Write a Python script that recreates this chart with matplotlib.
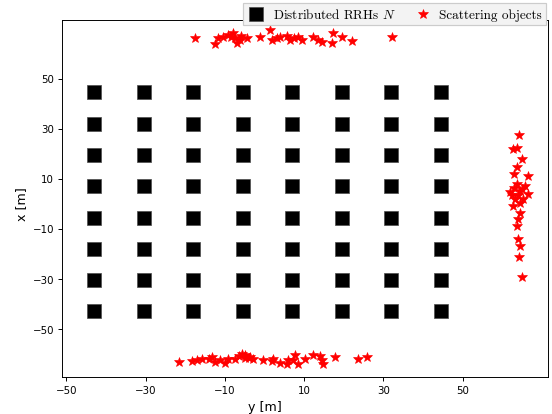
import numpy as np
import matplotlib
matplotlib.use("Agg")
import matplotlib.pyplot as plt

plt.rcParams["mathtext.fontset"] = "cm"

# Distributed RRH grid (8 x 8, 12.5 m spacing)
rrh_coords = [-43.0, -30.5, -18.0, -5.5, 7.0, 19.5, 32.0, 44.5]

# Scattering objects: (y, x) in metres
scat_top_y = [-17.5, -12.5, -11.7, -10.4, -9.1, -7.9, -7.4, -7.0, -6.2, -4.5,
              -1.1, 1.4, 1.8, 3.1, 3.9, 5.6, 8.5, 9.4, 12.3, 13.6,
              14.4, 16.9, 17.4, 19.5, 22.0, 32.1, -8.5, -6.0, 6.5, 7.5]
scat_top_x = [66.1, 63.8, 66.1, 66.8, 67.4, 68.1, 66.1, 64.1, 65.4, 66.1,
              66.5, 69.4, 65.4, 66.1, 66.8, 67.0, 66.8, 65.4, 66.5, 65.4,
              64.8, 64.1, 68.1, 66.5, 65.2, 66.5, 66.6, 67.0, 65.6, 66.4]

scat_bot_y = [-21.6, -18.4, -17.1, -15.8, -13.3, -12.5, -11.2, -10.0, -9.1, -7.4,
              -5.8, -4.9, -3.7, -2.8, -0.3, 1.8, 2.2, 3.9, 5.6, 7.3,
              7.7, 8.5, 10.2, 12.3, 14.0, 14.4, 14.8, 17.8, 23.7, 25.8,
              -6.5, -5.0, -4.0, 6.0, -14.0]
scat_bot_x = [-63.3, -63.0, -62.6, -62.2, -61.2, -63.3, -62.6, -63.6, -62.2, -61.9,
              -60.0, -61.6, -61.2, -61.9, -62.6, -63.0, -61.9, -63.6, -64.0, -62.6,
              -60.6, -64.0, -61.9, -60.6, -60.8, -62.6, -64.0, -61.2, -62.2, -61.2,
              -61.0, -60.6, -61.8, -62.5, -62.0]

scat_right_y = [64.2, 62.7, 63.6, 65.0, 63.6, 63.0, 66.5, 63.6, 65.7, 61.9,
                64.4, 66.5, 63.2, 65.3, 62.7, 64.4, 63.9, 63.6, 63.9, 64.4,
                64.2, 65.0, 64.0, 65.0, 63.0, 64.5, 62.5]
scat_right_x = [27.5, 21.8, 22.4, 17.8, 14.5, 11.8, 11.1, 7.8, 7.1, 4.5,
                5.1, 3.8, 1.8, 1.8, -0.8, -3.5, -6.2, -8.9, -14.2, -16.8,
                -21.2, -29.2, 3.3, 5.7, 6.2, 0.3, 3.3]

ticks = [-50, -30, -10, 10, 30, 50]

fig = plt.figure(figsize=(6.4, 4.8), dpi=86.4)
ax = fig.add_axes([0.1127, 0.0899, 0.8783, 0.8595])

gy, gx = np.meshgrid(rrh_coords, rrh_coords)
ax.plot(gy.ravel(), gx.ravel(), linestyle="none", marker="s", markersize=11,
        color="black", markeredgecolor="0.3", markeredgewidth=0.6,
        label=r"Distributed RRHs $N$")

sy = scat_top_y + scat_bot_y + scat_right_y
sx = scat_top_x + scat_bot_x + scat_right_x
ax.plot(sy, sx, linestyle="none", marker="*", markersize=8.5,
        color="red", markeredgecolor="red", markeredgewidth=0.5,
        label="Scattering objects")

ax.set_xlim(-51, 71.5)
ax.set_ylim(-69.1, 73.3)
ax.set_xticks(ticks)
ax.set_yticks(ticks)
ax.tick_params(labelsize=8.5)
ax.set_xlabel("y [m]", fontsize=10.5)
ax.set_ylabel("x [m]", fontsize=10.5)
# axis labels centred on the origin of the layout
ax.xaxis.label.set_x(0.417)
ax.yaxis.label.set_y(0.486)

leg = ax.legend(loc="upper right", bbox_to_anchor=(546 / 553, 1 - 4 / 415),
                bbox_transform=fig.transFigure, borderaxespad=0, ncol=2,
                prop={"family": "cmr10", "size": 11}, fancybox=False,
                handletextpad=0.5, columnspacing=1.3, borderpad=0.3,
                handlelength=1.5)
leg.get_frame().set_facecolor("#f3f3f3")
leg.get_frame().set_edgecolor("#cccccc")
leg.get_frame().set_alpha(1.0)

fig.savefig("out.png", dpi=86.4)
